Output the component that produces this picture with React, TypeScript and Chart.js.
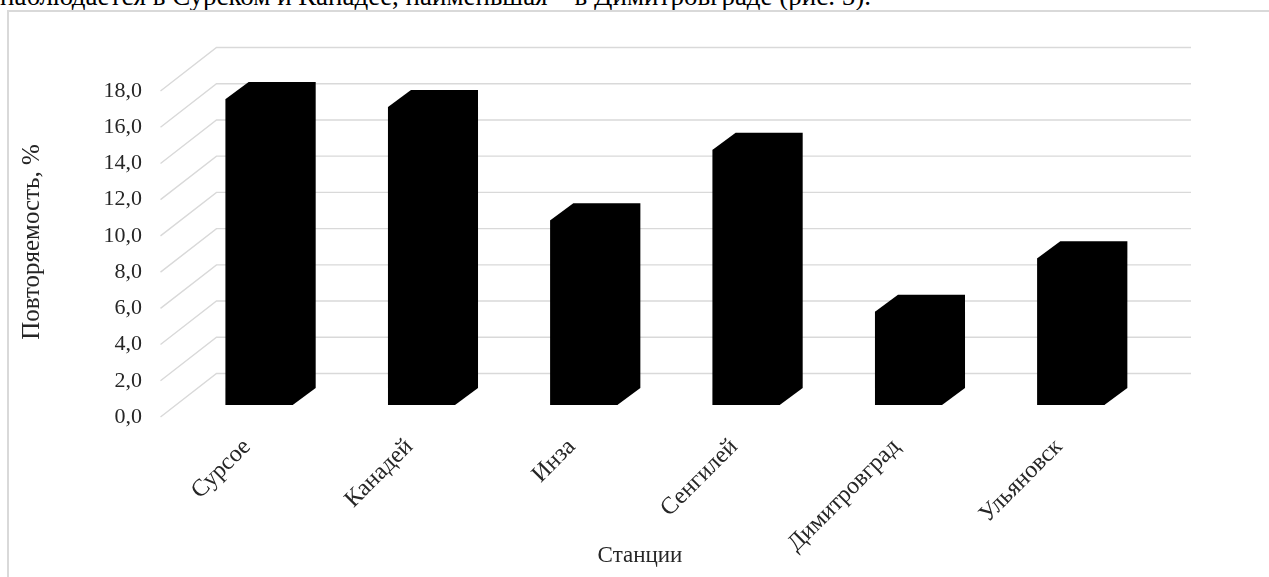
import React, { useEffect, useRef } from 'react';
import { Chart, registerables } from 'chart.js';

Chart.register(...registerables);

const categories = ['Сурсое', 'Канадей', 'Инза', 'Сенгилей', 'Димитровград', 'Ульяновск'];
const values = [16.9, 16.45, 10.2, 14.1, 5.15, 8.1];
const yTickLabels = ['0,0', '2,0', '4,0', '6,0', '8,0', '10,0', '12,0', '14,0', '16,0', '18,0'];
const yAxisTitle = 'Повторяемость, %';
const xAxisTitle = 'Станции';
const paragraph = 'наблюдается в Сурском и Канадее, наименьшая – в Димитровграде (рис. 5).';

const SERIF = "'Liberation Serif', 'Times New Roman', serif";
const TEXT = '#262626';

const wallPlugin = {
  id: 'wall3d',
  beforeDatasetsDraw(chart: any) {
    const { ctx, chartArea, scales } = chart;
    const ys = scales.y;
    ctx.save();
    ctx.strokeStyle = '#d9d9d9';
    ctx.lineWidth = 1.4;
    ys.ticks.forEach((t: any) => {
      const py = ys.getPixelForValue(t.value);
      ctx.beginPath();
      ctx.moveTo(chartArea.left - 17.5, py + 12);
      ctx.lineTo(chartArea.left + 38.5, py - 31.5);
      ctx.lineTo(chartArea.right + 39, py - 31.5);
      ctx.stroke();
    });
    ctx.restore();
  },
};

const barDepthPlugin = {
  id: 'barDepth',
  afterDatasetsDraw(chart: any) {
    const { ctx } = chart;
    const dx = 23;
    const dy = 17;
    const meta = chart.getDatasetMeta(0);
    ctx.save();
    ctx.fillStyle = '#000000';
    meta.data.forEach((el: any) => {
      const { x, y, base, width } = el.getProps(['x', 'y', 'base', 'width'], true);
      const l = x - width / 2;
      const r = x + width / 2;
      ctx.beginPath();
      ctx.moveTo(l, base);
      ctx.lineTo(l, y);
      ctx.lineTo(l + dx, y - dy);
      ctx.lineTo(r + dx, y - dy);
      ctx.lineTo(r + dx, base - dy);
      ctx.lineTo(r, base);
      ctx.closePath();
      ctx.fill();
    });
    ctx.restore();
  },
};

const xTitlePlugin = {
  id: 'xTitle',
  afterDraw(chart: any) {
    const { ctx, chartArea } = chart;
    ctx.save();
    ctx.font = `23px ${SERIF}`;
    ctx.fillStyle = TEXT;
    ctx.textAlign = 'center';
    ctx.textBaseline = 'middle';
    ctx.fillText(xAxisTitle, (chartArea.left + chartArea.right) / 2 - 25, 556);
    ctx.restore();
  },
};

export default function App() {
  const canvasRef = useRef<HTMLCanvasElement | null>(null);

  useEffect(() => {
    const canvas = canvasRef.current;
    if (!canvas) return;
    const chart = new Chart(canvas, {
      type: 'bar',
      data: {
        labels: categories,
        datasets: [
          {
            data: values,
            backgroundColor: '#000000',
            borderWidth: 0,
            barPercentage: 1,
            categoryPercentage: 0.413,
          },
        ],
      },
      options: {
        responsive: false,
        animation: false,
        devicePixelRatio: 1,
        layout: { padding: { left: 0, right: 117, top: 79, bottom: 0 } },
        plugins: {
          legend: { display: false },
          tooltip: { enabled: false },
        },
        scales: {
          x: {
            grid: { display: false, drawTicks: false },
            border: { display: false },
            ticks: {
              autoSkip: false,
              minRotation: 45,
              maxRotation: 45,
              padding: 28,
              labelOffset: -12,
              color: TEXT,
              font: { family: SERIF, size: 24 },
            },
            afterFit: (s: any) => {
              s.height = 172;
            },
          },
          y: {
            min: 0,
            max: 18,
            grid: { display: false, drawTicks: false },
            border: { display: false },
            ticks: {
              stepSize: 2,
              padding: 36,
              labelOffset: 12,
              color: TEXT,
              font: { family: SERIF, size: 22 },
              callback: (_v: any, i: number) => yTickLabels[i],
            },
            title: {
              display: true,
              text: yAxisTitle,
              color: TEXT,
              font: { family: SERIF, size: 25 },
              padding: { top: 17, bottom: 0 },
            },
            afterFit: (s: any) => {
              s.width = 178;
            },
          },
        },
      },
      plugins: [wallPlugin, barDepthPlugin, xTitlePlugin],
    });
    return () => chart.destroy();
  }, []);

  return (
    <div style={{ position: 'absolute', left: 0, top: 0, width: 1269, height: 577, overflow: 'hidden', background: '#fff' }}>
      <div
        style={{
          position: 'absolute',
          left: 0,
          top: -17,
          whiteSpace: 'nowrap',
          fontFamily: SERIF,
          fontSize: 27,
          lineHeight: '27px',
          color: '#000',
        }}
      >
        {paragraph}
      </div>
      <div
        style={{
          position: 'absolute',
          left: 7,
          top: 10,
          width: 1300,
          height: 700,
          border: '2px solid #d9d9d9',
          boxSizing: 'border-box',
        }}
      />
      <canvas ref={canvasRef} width={1269} height={577} style={{ position: 'absolute', left: 0, top: 0 }} />
    </div>
  );
}
